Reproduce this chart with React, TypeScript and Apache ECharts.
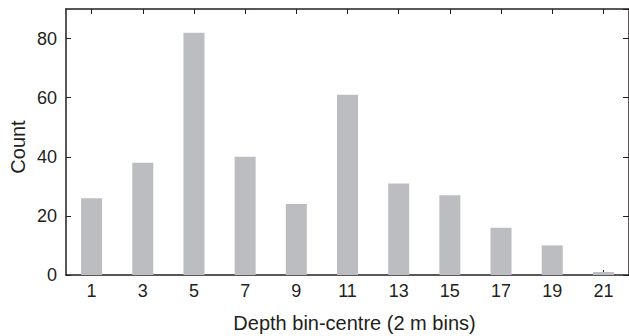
import React, { useEffect, useRef } from "react";
import * as echarts from "echarts";

const categories = ["1", "3", "5", "7", "9", "11", "13", "15", "17", "19", "21"];
const counts = [26, 38, 82, 40, 24, 61, 31, 27, 16, 10, 1];
const yTicks = { min: 0, max: 90, interval: 20 };
const xTitle = "Depth bin-centre (2 m bins)";
const yTitle = "Count";

const INK = "#231f20";
const FONT = "'Liberation Sans', Arial, Helvetica, sans-serif";

export default function App() {
  const ref = useRef<HTMLDivElement>(null);
  useEffect(() => {
    if (!ref.current) return;
    const chart = echarts.init(ref.current, undefined, { renderer: "svg" });
    const axisLine = { show: true, onZero: false, lineStyle: { color: INK, width: 1.5 } };
    chart.setOption({
      animation: false,
      backgroundColor: "#ffffff",
      grid: { left: 66, top: 9, width: 566, height: 266 },
      xAxis: [
        {
          type: "category",
          position: "bottom",
          data: categories,
          axisLine,
          axisTick: { show: true, inside: true, length: 5, alignWithLabel: true, lineStyle: { color: INK } },
          axisLabel: { color: INK, fontSize: 18, fontFamily: FONT, margin: 7 },
          splitLine: { show: false },
        },
        {
          type: "category",
          position: "top",
          data: categories,
          axisLine,
          axisTick: { show: true, inside: true, length: 5, alignWithLabel: true, lineStyle: { color: INK } },
          axisLabel: { show: false },
          splitLine: { show: false },
        },
      ],
      yAxis: [
        {
          type: "value",
          position: "left",
          min: yTicks.min,
          max: yTicks.max,
          interval: yTicks.interval,
          axisLine,
          axisTick: { show: true, inside: true, length: 5, lineStyle: { color: INK } },
          axisLabel: { color: INK, fontSize: 18, fontFamily: FONT, margin: 9, showMaxLabel: false },
          splitLine: { show: false },
        },
        {
          type: "value",
          position: "right",
          min: yTicks.min,
          max: yTicks.max,
          interval: yTicks.interval,
          axisLine,
          axisTick: { show: true, inside: true, length: 6, lineStyle: { color: INK } },
          axisLabel: { show: false },
          splitLine: { show: false },
        },
      ],
      graphic: [
        {
          type: "text",
          x: 354.5,
          y: 323,
          style: { text: xTitle, fill: INK, font: `20px ${FONT}`, align: "center", verticalAlign: "middle" },
        },
        {
          type: "text",
          x: 18,
          y: 147,
          rotation: Math.PI / 2,
          style: { text: yTitle, fill: INK, font: `20px ${FONT}`, align: "center", verticalAlign: "middle" },
        },
      ],
      series: [
        {
          type: "bar",
          xAxisIndex: 0,
          yAxisIndex: 0,
          data: counts,
          barWidth: 21,
          itemStyle: { color: "#bcbdc1" },
        },
      ],
    });
    return () => chart.dispose();
  }, []);
  return <div ref={ref} style={{ width: 629, height: 336, position: "absolute", left: 0, top: 0 }} />;
}
